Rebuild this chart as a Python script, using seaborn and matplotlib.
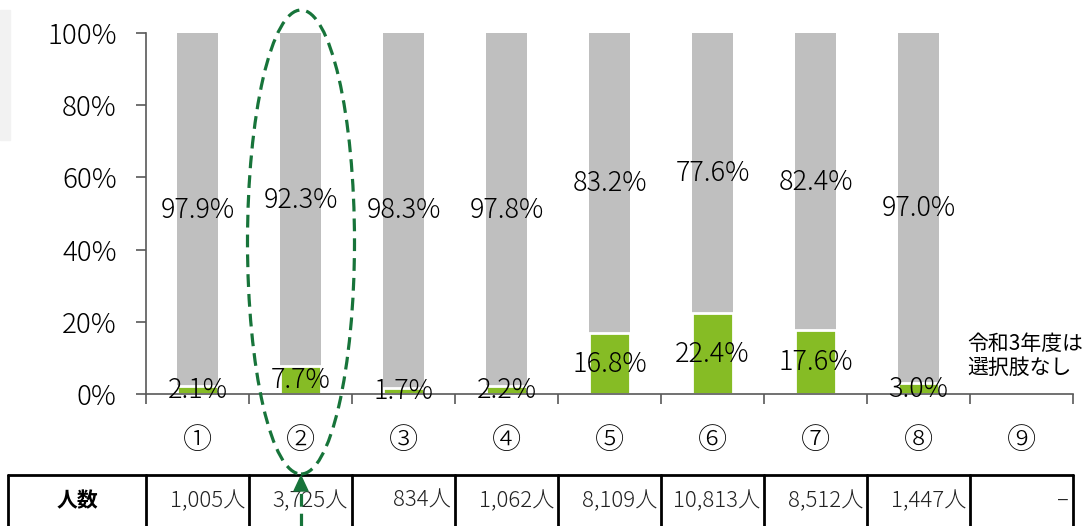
import numpy as np
import pandas as pd
import matplotlib
matplotlib.use("Agg")
import matplotlib.pyplot as plt
import matplotlib.patches as mpatches
from matplotlib.lines import Line2D
import seaborn as sns

# データ
cats = ['①', '②', '③', '④', '⑤', '⑥', '⑦', '⑧', '⑨']
green_vals = [2.1, 7.7, 1.7, 2.2, 16.8, 22.4, 17.6, 3.0, np.nan]
gray_vals = [97.9, 92.3, 98.3, 97.8, 83.2, 77.6, 82.4, 97.0, np.nan]
counts = ['1,005人', '3,725人', '834人', '1,062人', '8,109人', '10,813人', '8,512人', '1,447人', '–']
row_label = '人数'
note = '令和3年度は\n選択肢なし'

GREEN = '#86BC25'
GRAY = '#BFBFBF'
DARK_GREEN = '#17743A'
AXIS = '#595959'

sns.set_theme(style='white')
plt.rcParams['font.family'] = ['Noto Sans CJK JP', 'DejaVu Sans']

df = pd.DataFrame({'cat': cats, 'green': green_vals, 'gray': gray_vals})
df['total'] = df['green'] + df['gray']

W, H = 1082, 526
fig = plt.figure(figsize=(W / 100, H / 100), dpi=100)
ax = fig.add_axes([146 / W, 1 - 394 / H, (1073 - 146) / W, (394 - 33) / H])

def fx(px):
    return px / W

def fy(py):
    return 1 - py / H

# 左上の薄いグレー
fig.patches.append(mpatches.Rectangle((0, fy(140)), fx(10), fy(10) - fy(140),
                                      transform=fig.transFigure, color='#F2F2F2', zorder=0))

sns.barplot(data=df, x='cat', y='total', order=cats, color=GRAY, width=0.39,
            edgecolor='white', linewidth=0, saturation=1, ax=ax)
sns.barplot(data=df, x='cat', y='green', order=cats, color=GREEN, width=0.39,
            edgecolor='white', linewidth=2, saturation=1, ax=ax)

for i, (g, r) in enumerate(zip(green_vals, gray_vals)):
    if np.isnan(g):
        continue
    ax.text(i, g / 2, f'{g:.1f}%', ha='center', va='center', fontsize=19.5, color='black',
            fontweight='light')
    ax.text(i, g + r / 2, f'{r:.1f}%', ha='center', va='center', fontsize=19.5, color='black',
            fontweight='light')

ax.set_xlim(-0.5, len(cats) - 0.5)
ax.set_ylim(0, 100)
ax.set_yticks(range(0, 101, 20))
ax.set_yticklabels([f'{v}%' for v in range(0, 101, 20)], fontweight='light')
ax.set_xlabel('')
ax.set_ylabel('')
ax.set_xticks(range(len(cats)))
ax.set_xticklabels(cats, fontweight='light')
ax.set_xticks(np.arange(-0.5, len(cats), 1), minor=True)
ax.tick_params(axis='x', which='major', length=0, pad=23, labelsize=21, colors='black')
ax.tick_params(axis='x', which='minor', length=7, width=1.2, color=AXIS, direction='out', bottom=True)
ax.tick_params(axis='y', length=7, width=1.2, color=AXIS, direction='out', left=True,
               pad=14, labelsize=20, labelcolor='black')
for s in ['top', 'right']:
    ax.spines[s].set_visible(False)
for s in ['left', 'bottom']:
    ax.spines[s].set_color(AXIS)
    ax.spines[s].set_linewidth(1.2)
ax.grid(False)

ax.text(967 / W, fy(356), note, transform=fig.transFigure, ha='left', va='center',
        fontsize=15, linespacing=1.1, color='black')

# 表
borders = [8] + [146 + 103 * k for k in range(10)]
top = 475
fig.lines.append(Line2D([fx(8), fx(1073)], [fy(top), fy(top)], transform=fig.transFigure,
                        color='black', lw=2))
for b in borders:
    fig.lines.append(Line2D([fx(b), fx(b)], [fy(top), 0], transform=fig.transFigure,
                            color='black', lw=2))
fig.text(fx(77), fy(501), row_label, ha='center', va='center', fontsize=15,
         fontweight='bold', color='black')
for k, c in enumerate(counts):
    fig.text(fx(borders[k + 2] - 4), fy(501), c, ha='right', va='center', fontsize=16,
             color='#222222', fontweight='light')

# 楕円と矢印
fig.patches.append(mpatches.Ellipse((fx(301), fy(242)), fx(107), fy(10) - fy(474),
                                    transform=fig.transFigure, fill=False, edgecolor=DARK_GREEN,
                                    lw=2.3, linestyle=(0, (4, 2.2)), zorder=5))
fig.lines.append(Line2D([fx(301), fx(301)], [0, fy(490)], transform=fig.transFigure,
                        color=DARK_GREEN, lw=2.3, linestyle=(0, (4, 2.2)), zorder=5))
fig.patches.append(mpatches.Polygon([(fx(294), fy(491)), (fx(308), fy(491)), (fx(301), fy(476))],
                                    closed=True, transform=fig.transFigure, color=DARK_GREEN,
                                    zorder=6))

fig.savefig('out.png', dpi=100)
